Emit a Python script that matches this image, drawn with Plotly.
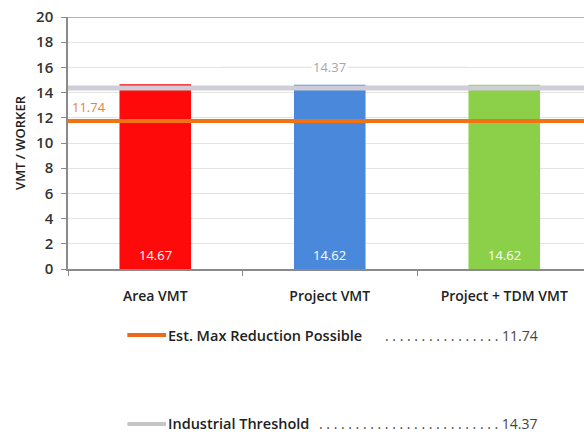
import plotly.graph_objs as go

categories = ['Area VMT', 'Project VMT', 'Project + TDM VMT']
vmt_per_worker = [14.67, 14.62, 14.62]
bar_colors = ['#ff0a0a', '#4a88dc', '#8ccf48']
value_labels = ['14.67', '14.62', '14.62']

max_reduction = 11.74
industrial_threshold = 14.37
y_ticks = [0, 2, 4, 6, 8, 10, 12, 14, 16, 18, 20]

font = 'Open Sans, Noto Sans, sans-serif'

data = [go.Bar(x=categories,
               y=vmt_per_worker,
               width=0.41,
               marker=dict(color=bar_colors, line=dict(width=0)),
               hoverinfo='x+y',
               showlegend=False)]

shapes = [
    # threshold lines drawn over the bars
    dict(type='line', xref='paper', x0=0, x1=1, yref='y',
         y0=industrial_threshold, y1=industrial_threshold,
         line=dict(color='#cfcdd8', width=5), layer='above'),
    dict(type='line', xref='paper', x0=0, x1=1, yref='y',
         y0=max_reduction, y1=max_reduction,
         line=dict(color='#f07414', width=4), layer='above'),
    # top border
    dict(type='line', xref='paper', x0=0, x1=1, yref='y', y0=20, y1=20,
         line=dict(color='#9a9a9a', width=1.5), layer='above'),
    # leader line around the threshold label
    dict(type='line', xref='x', x0=0.37, x1=1.79, yref='y', y0=16.0, y1=16.0,
         line=dict(color='#c4c4c4', width=1), layer='below'),
    # legend swatches
    dict(type='line', xref='paper', x0=0.115, x1=0.19, yref='paper', y0=-0.262, y1=-0.262,
         line=dict(color='#ec6a1c', width=4)),
    dict(type='line', xref='paper', x0=0.115, x1=0.19, yref='paper', y0=-0.615, y1=-0.615,
         line=dict(color='#c6c6c6', width=4)),
]

annotations = [
    dict(x=1, y=16.0, xref='x', yref='y', text='14.37', showarrow=False,
         bgcolor='white', font=dict(color='#a8a8a8', size=13, family=font)),
    dict(x=0.004, y=12.85, xref='paper', yref='y', text='11.74', showarrow=False,
         xanchor='left', font=dict(color='#e8843a', size=13, family=font)),
    dict(x=0.19, y=-0.262, xref='paper', yref='paper', text='Est. Max Reduction Possible',
         showarrow=False, xanchor='left', yanchor='middle',
         font=dict(color='#222', size=14.5, family=font, weight=600)),
    dict(x=0.914, y=-0.262, xref='paper', yref='paper',
         text='. . . . . . . . . . . . . . . . 11.74',
         showarrow=False, xanchor='right', yanchor='middle',
         font=dict(color='#444', size=14, family=font)),
    dict(x=0.19, y=-0.615, xref='paper', yref='paper', text='Industrial Threshold',
         showarrow=False, xanchor='left', yanchor='middle',
         font=dict(color='#222', size=14.5, family=font, weight=600)),
    dict(x=0.914, y=-0.615, xref='paper', yref='paper',
         text='. . . . . . . . . . . . . . . . . . . . . . . . . 14.37',
         showarrow=False, xanchor='right', yanchor='middle',
         font=dict(color='#444', size=14, family=font)),
]

# value labels near the base of each bar
for cat, lab in zip(categories, value_labels):
    annotations.append(dict(x=cat, y=1.1, xref='x', yref='y', text=lab, showarrow=False,
                            font=dict(color='white', size=13, family=font)))

layout = go.Layout(width=584, height=432,
                   margin=dict(l=68, r=0, t=17, b=163, pad=0),
                   paper_bgcolor='white',
                   plot_bgcolor='white',
                   bargap=0.59,
                   font=dict(family=font, color='#333'),
                   xaxis=dict(range=[-0.5, 2.457],
                              automargin=False,
                              showgrid=False,
                              showline=True, linecolor='#8a8a8a', linewidth=1.5,
                              ticks='outside', tickson='boundaries', ticklen=5,
                              tickcolor='#8a8a8a', ticklabelstandoff=13,
                              tickfont=dict(size=14, color='#222', family=font, weight=600)),
                   yaxis=dict(range=[0, 20], tickvals=y_ticks,
                              automargin=False,
                              showgrid=True, gridcolor='#e4e4e4', gridwidth=1,
                              showline=True, linecolor='#8a8a8a', linewidth=1.5,
                              ticks='outside', ticklen=5, tickcolor='#8a8a8a',
                              ticklabelstandoff=5,
                              zeroline=False,
                              tickfont=dict(size=15, color='#333', family=font, weight=600),
                              title=dict(text='VMT / WORKER', standoff=8,
                                         font=dict(size=13, color='#222', family=font,
                                                   weight=600))),
                   shapes=shapes,
                   annotations=annotations)

fig = go.Figure(data=data, layout=layout)
# drop the page's default body margin so the figure sits at the top-left corner
fig.write_html('out.html', config={'displayModeBar': False},
               post_script="document.body.style.margin='0';")
